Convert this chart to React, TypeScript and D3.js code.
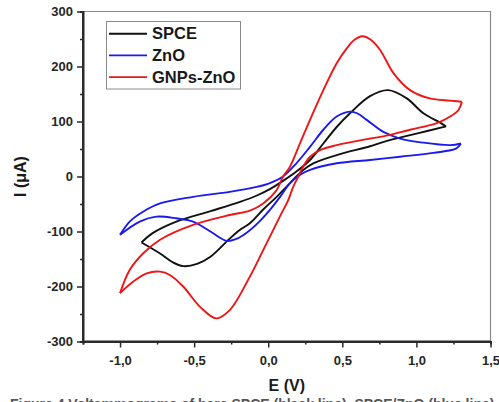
import React, { useEffect, useRef } from "react";
import * as d3 from "d3";

// potential (V) / current (uA) pairs
const spceForward: [number, number][] = [
  [-0.855, -120], [-0.78, -103], [-0.62, -82], [-0.39, -63], [-0.19, -46], [-0.08, -35],
  [0.011, -23], [0.1, -8], [0.19, 9], [0.282, 30], [0.372, 60], [0.462, 90], [0.552, 115],
  [0.687, 146], [0.81, 157], [0.935, 142], [1.047, 115], [1.16, 98], [1.2, 91],
];
const spceReverse: [number, number][] = [
  [1.2, 91], [1.0, 78], [0.78, 63], [0.687, 55], [0.462, 39], [0.304, 24], [0.236, 12],
  [0.19, 0], [0.124, -18.5], [0.057, -37], [-0.034, -60], [-0.124, -85], [-0.19, -97],
  [-0.26, -113], [-0.39, -146], [-0.48, -159], [-0.574, -163], [-0.65, -155], [-0.73, -140],
  [-0.855, -120],
];
const znoForward: [number, number][] = [
  [-1.0, -106], [-0.935, -82], [-0.845, -64], [-0.73, -49], [-0.507, -37], [-0.26, -28],
  [-0.078, -19], [0.011, -12], [0.1, 0], [0.19, 24], [0.282, 54], [0.372, 85], [0.462, 109],
  [0.552, 118], [0.6, 115], [0.665, 103], [0.777, 81], [0.89, 69], [1.047, 61.5], [1.23, 57],
  [1.3, 60],
];
const znoReverse: [number, number][] = [
  [1.3, 60], [1.27, 51], [1.115, 43], [0.89, 36], [0.687, 30], [0.462, 24], [0.282, 12],
  [0.214, 3], [0.147, -12], [0.08, -37], [0.02, -58], [-0.06, -82], [-0.15, -103],
  [-0.22, -114], [-0.28, -117], [-0.39, -100], [-0.507, -82], [-0.62, -76], [-0.754, -73],
  [-0.867, -82], [-1.0, -106],
];
const gnpForward: [number, number][] = [
  [-1.0, -212], [-0.935, -170], [-0.845, -140], [-0.73, -115], [-0.507, -88], [-0.26, -70],
  [-0.124, -62], [-0.034, -49], [0.057, -24.5], [0.1, 0], [0.147, 18], [0.214, 60],
  [0.282, 103], [0.372, 157], [0.462, 206], [0.53, 233], [0.58, 248], [0.635, 255],
  [0.69, 249], [0.755, 230], [0.845, 188], [0.957, 157], [1.09, 142], [1.228, 138],
  [1.307, 136],
];
const gnpReverse: [number, number][] = [
  [1.307, 136], [1.284, 121], [1.228, 109], [1.138, 97], [0.957, 85], [0.777, 73],
  [0.687, 69], [0.462, 57], [0.35, 48], [0.282, 36], [0.236, 18], [0.203, 0],
  [0.169, -18.5], [0.135, -43], [0.08, -72], [-0.034, -134], [-0.124, -182], [-0.26, -243],
  [-0.35, -258], [-0.46, -237], [-0.574, -200], [-0.664, -179], [-0.73, -173],
  [-0.82, -176], [-0.91, -191], [-1.0, -212],
];

const seriesNames = ["SPCE", "ZnO", "GNPs-ZnO"];
const seriesColors = ["#111111", "#1a1af0", "#ee1515"];
const seriesData = [
  [spceForward, spceReverse],
  [znoForward, znoReverse],
  [gnpForward, gnpReverse],
];

const yMajor = [-300, -200, -100, 0, 100, 200, 300];
const yMinor = [-250, -150, -50, 50, 150, 250];
const xMajor = [-1.0, -0.5, 0.0, 0.5, 1.0, 1.5];
const xMinor = [-1.25, -0.75, -0.25, 0.25, 0.75, 1.25];

export default function App() {
  const ref = useRef<SVGSVGElement>(null);

  useEffect(() => {
    const svg = d3.select(ref.current);
    svg.selectAll("*").remove();

    const left = 83, right = 490.5, top = 11.5, bottom = 341.5;
    const x = d3.scaleLinear().domain([-1.25, 1.5]).range([left, right]);
    const y = d3.scaleLinear().domain([-300, 300]).range([bottom, top]);

    // frame (top/right lighter)
    svg.append("path")
      .attr("d", `M${left},${top}H${right}V${bottom}`)
      .attr("fill", "none").attr("stroke", "#8a8a8a").attr("stroke-width", 1.2);

    const font = "'Liberation Sans', Arial, sans-serif";

    // y axis
    const yAxis = svg.append("g").attr("transform", `translate(${left},0)`)
      .call(d3.axisLeft(y).tickValues(yMajor).tickSize(6).tickPadding(4)
        .tickFormat((d) => String(d)));
    svg.append("g").attr("transform", `translate(${left},0)`)
      .call(d3.axisLeft(y).tickValues(yMinor).tickSize(3).tickFormat(() => ""));

    // x axis
    const xAxis = svg.append("g").attr("transform", `translate(0,${bottom})`)
      .call(d3.axisBottom(x).tickValues(xMajor).tickSize(6).tickPadding(8)
        .tickFormat((d) => (d as number).toFixed(1).replace(".", ",")));
    svg.append("g").attr("transform", `translate(0,${bottom})`)
      .call(d3.axisBottom(x).tickValues(xMinor).tickSize(3).tickFormat(() => ""));

    svg.selectAll(".domain").attr("stroke", "#2a2a2a").attr("stroke-width", 2);
    svg.selectAll(".tick line").attr("stroke", "#2a2a2a").attr("stroke-width", 1.5);
    svg.selectAll(".tick text")
      .attr("font-family", font).attr("font-weight", "bold")
      .attr("font-size", 13).attr("fill", "#262626");
    yAxis.select(".domain").attr("d", `M0,${top}V${bottom}`);
    xAxis.select(".domain").attr("d", `M${left},0H${right}`);

    // curves, one path per scan direction
    const line = d3.line<[number, number]>()
      .x((d) => x(d[0])).y((d) => y(d[1]))
      .curve(d3.curveCatmullRom.alpha(0.5));

    seriesData.forEach((branches, i) => {
      branches.forEach((b) => {
        svg.append("path").datum(b)
          .attr("d", line)
          .attr("fill", "none")
          .attr("stroke", seriesColors[i])
          .attr("stroke-width", 1.9)
          .attr("stroke-linejoin", "round");
      });
    });

    // legend
    const lg = svg.append("g");
    lg.append("rect").attr("x", 106.5).attr("y", 21.5).attr("width", 134).attr("height", 67.5)
      .attr("fill", "white").attr("stroke", "#8a8a8a").attr("stroke-width", 1);
    seriesNames.forEach((name, i) => {
      const cy = 33.7 + i * 21.7;
      lg.append("line").attr("x1", 109).attr("x2", 147).attr("y1", cy).attr("y2", cy)
        .attr("stroke", seriesColors[i]).attr("stroke-width", 1.9);
      lg.append("text").attr("x", 152).attr("y", cy + 5.7)
        .attr("font-family", font).attr("font-weight", "bold").attr("font-size", 16.5)
        .attr("fill", "#1a1a1a").text(name);
    });

    // axis titles
    svg.append("text")
      .attr("transform", `translate(26,${(top + bottom) / 2}) rotate(-90)`)
      .attr("text-anchor", "middle")
      .attr("font-family", font).attr("font-weight", "bold").attr("font-size", 16)
      .attr("fill", "#1a1a1a").text("I (\u03bcA)");
    svg.append("text")
      .attr("x", (left + right) / 2).attr("y", 391)
      .attr("text-anchor", "middle")
      .attr("font-family", font).attr("font-weight", "bold").attr("font-size", 16)
      .attr("fill", "#1a1a1a").text("E (V)");

    // caption, cut off by the bottom edge as in the source figure
    svg.append("text")
      .attr("x", 10).attr("y", 409)
      .attr("font-family", font).attr("font-weight", "bold").attr("font-size", 14)
      .attr("fill", "#555")
      .text("Figure 4 Voltammograms of bare SPCE (black line), SPCE/ZnO (blue line)");
  }, []);

  return (
    <svg ref={ref} width={499} height={402}
      style={{ position: "absolute", left: 0, top: 0, background: "white" }} />
  );
}
